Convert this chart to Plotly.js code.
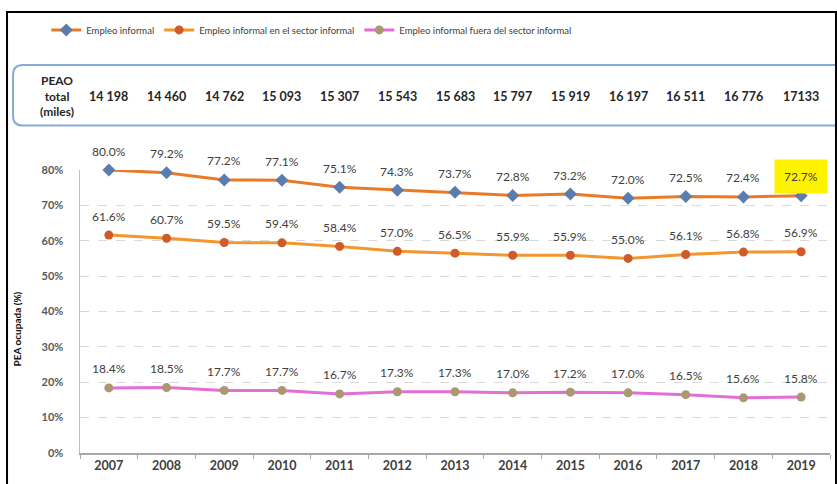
<!DOCTYPE html>
<html>
<head>
<meta charset="utf-8">
<script src="https://cdn.plot.ly/plotly-3.0.1.min.js"></script>
<style>html,body{margin:0;padding:0;background:#fff;}#chart{width:837px;height:484px;}</style>
</head>
<body>
<div id="chart"></div>
<script>
// ---- data ----
var years = ['2007','2008','2009','2010','2011','2012','2013','2014','2015','2016','2017','2018','2019'];
var empleoInformal = [80.0,79.2,77.2,77.1,75.1,74.3,73.7,72.8,73.2,72.0,72.5,72.4,72.7];
var enSectorInformal = [61.6,60.7,59.5,59.4,58.4,57.0,56.5,55.9,55.9,55.0,56.1,56.8,56.9];
var fueraSectorInformal = [18.4,18.5,17.7,17.7,16.7,17.3,17.3,17.0,17.2,17.0,16.5,15.6,15.8];
var peaoTotal = ['14 198','14 460','14 762','15 093','15 307','15 543','15 683','15 797','15 919','16 197','16 511','16 776','17133'];
var seriesNames = ['Empleo informal','Empleo informal en el sector informal','Empleo informal fuera del sector informal'];
var highlightIndex = 12; // 72.7% highlighted

var FONT = 'Lato, "Open Sans", sans-serif';
var LBL = '#404040';

var traces = [
  {x: years, y: empleoInformal, name: seriesNames[0], type: 'scatter', mode: 'lines+markers',
   line: {color: '#E97A26', width: 3}, marker: {symbol: 'diamond', size: 10, color: '#5B7DAE'}, cliponaxis: false},
  {x: years, y: enSectorInformal, name: seriesNames[1], type: 'scatter', mode: 'lines+markers',
   line: {color: '#F2962E', width: 3}, marker: {symbol: 'circle', size: 9, color: '#CF5A2A'}, cliponaxis: false},
  {x: years, y: fueraSectorInformal, name: seriesNames[2], type: 'scatter', mode: 'lines+markers',
   line: {color: '#E16FD6', width: 3}, marker: {symbol: 'circle', size: 9, color: '#A99870'}, cliponaxis: false}
];

var annotations = [];
[empleoInformal, enSectorInformal, fueraSectorInformal].forEach(function (arr, si) {
  arr.forEach(function (v, i) {
    var a = {x: i, y: v, xref: 'x', yref: 'y', text: v.toFixed(1) + '%', showarrow: false,
      yshift: 19, yanchor: 'middle', font: {family: FONT, size: 12, color: LBL}};
    if (si === 0 && i === highlightIndex) {
      a.bgcolor = '#FFF200'; a.borderpad = 9;
    }
    annotations.push(a);
  });
});
peaoTotal.forEach(function (t, i) {
  annotations.push({x: i, y: 1.26, xref: 'x', yref: 'paper', text: '<b>' + t + '</b>', showarrow: false,
    yanchor: 'middle', font: {family: FONT, size: 12.5, color: '#262626'}});
});
annotations.push({x: -0.0307, y: 1.26, xref: 'paper', yref: 'paper', text: '<b>PEAO<br>total<br>(miles)</b>',
  showarrow: false, xanchor: 'center', yanchor: 'middle', align: 'center',
  font: {family: FONT, size: 12, color: '#262626'}});
annotations.push({x: -0.084, y: 0.44, xref: 'paper', yref: 'paper', text: '<b>PEA ocupada (%)</b>',
  showarrow: false, textangle: -90, xanchor: 'center', yanchor: 'middle',
  font: {family: FONT, size: 10, color: '#111'}});

// rounded box for PEAO row (paper coords)
function roundedPath(x0, y0, x1, y1, rx, ry) {
  return 'M' + (x0 + rx) + ',' + y1 + ' L' + (x1 - rx) + ',' + y1 + ' Q' + x1 + ',' + y1 + ' ' + x1 + ',' + (y1 - ry) +
    ' L' + x1 + ',' + (y0 + ry) + ' Q' + x1 + ',' + y0 + ' ' + (x1 - rx) + ',' + y0 +
    ' L' + (x0 + rx) + ',' + y0 + ' Q' + x0 + ',' + y0 + ' ' + x0 + ',' + (y0 + ry) +
    ' L' + x0 + ',' + (y1 - ry) + ' Q' + x0 + ',' + y1 + ' ' + (x0 + rx) + ',' + y1 + ' Z';
}

var layout = {
  width: 837, height: 484,
  margin: {l: 80, r: 7, t: 170, b: 31, pad: 0},
  paper_bgcolor: '#fff', plot_bgcolor: '#fff',
  font: {family: FONT, color: LBL},
  showlegend: true,
  legend: {orientation: 'h', x: -0.045, xanchor: 'left', y: 1.495, yanchor: 'middle',
    font: {family: FONT, size: 9.5, color: LBL}, itemwidth: 30, tracegroupgap: 0, bgcolor: 'rgba(0,0,0,0)'},
  xaxis: {type: 'category', range: [-0.5, 12.5], showgrid: false, zeroline: false,
    showline: true, linecolor: '#A6A6A6', linewidth: 1.5, ticks: 'outside', tickson: 'boundaries',
    ticklen: 4, tickcolor: '#A6A6A6', tickfont: {family: FONT, size: 12.5, color: LBL, weight: 'bold'}, fixedrange: true},
  yaxis: {range: [0, 80], dtick: 10, ticksuffix: '%', showgrid: true, gridcolor: '#D9D9D9', griddash: 'dash',
    gridwidth: 1, zeroline: false, showline: true, linecolor: '#BFBFBF', linewidth: 1.5, ticks: '',
    ticklabelstandoff: 13, tickfont: {family: FONT, size: 11, color: '#595959', weight: 'bold'}, fixedrange: true},
  annotations: annotations,
  shapes: [
    {type: 'path', xref: 'paper', yref: 'paper', path: roundedPath(-0.0893, 1.157, 1.03, 1.371, 0.0133, 0.035),
      line: {color: '#86ABD6', width: 2}, fillcolor: 'rgba(0,0,0,0)'},
    {type: 'rect', xref: 'paper', yref: 'paper', x0: -0.0973, x1: 1.008, y0: -0.16, y1: 1.558,
      line: {color: '#000', width: 2}, fillcolor: 'rgba(0,0,0,0)'}
  ]
};

Plotly.newPlot('chart', traces, layout, {displayModeBar: false, staticPlot: true});
</script>
</body>
</html>
